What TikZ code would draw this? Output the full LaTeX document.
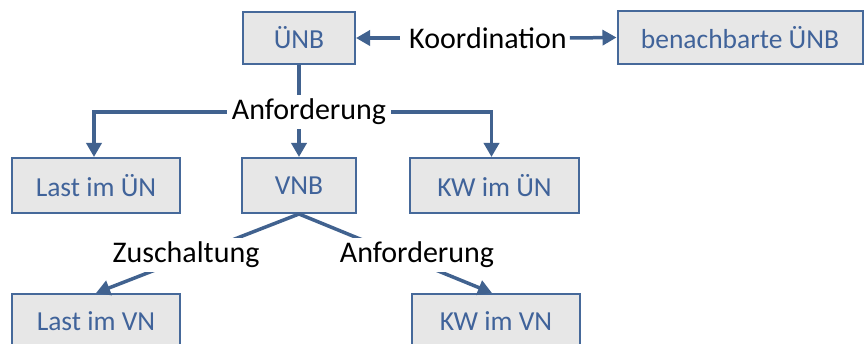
\documentclass[tikz,border=0pt]{standalone}
\usepackage{fontspec}
\setmainfont{Carlito}
\usetikzlibrary{arrows.meta}
\definecolor{boxfill}{HTML}{E7E7E7}
\definecolor{boxline}{HTML}{46699A}
\definecolor{boxtext}{HTML}{40639A}
\definecolor{arrcol}{HTML}{41628F}
\tikzset{
  box/.style={draw=boxline, line width=2pt, fill=boxfill, text=boxtext,
    font=\fontsize{27.5}{33}\selectfont, inner sep=0pt, anchor=center},
  lbl/.style={text=black, font=\fontsize{30}{36}\selectfont, inner xsep=5pt, inner ysep=4pt},
  conn/.style={draw=arrcol, line width=3.5pt},
  arr/.style={conn, -{Triangle[length=14pt,width=15pt]}},
  darr/.style={conn, {Triangle[length=14pt,width=15pt]}-{Triangle[length=14pt,width=15pt]}}
}
\begin{document}
\begin{tikzpicture}[x=1pt,y=-1pt]
\useasboundingbox (0,0) rectangle (864,344);
\clip (0,0) rectangle (864,344);
% boxes
\node[box, minimum width=112pt, minimum height=52pt] (unb) at (299,38) {ÜNB};
\node[box, minimum width=245pt, minimum height=53pt] (nachbar) at (740,37.5) {benachbarte ÜNB};
\node[box, minimum width=168pt, minimum height=55pt] (lastun) at (96,185.5) {Last im ÜN};
\node[box, minimum width=114pt, minimum height=55pt] (vnb) at (299,185.5) {VNB};
\node[box, minimum width=169pt, minimum height=55pt] (kwun) at (494.5,185.5) {KW im ÜN};
\node[box, minimum width=168pt, minimum height=55pt] (lastvn) at (96,321.5) {Last im VN};
\node[box, minimum width=168pt, minimum height=55pt] (kwvn) at (496,321.5) {KW im VN};
% Koordination
\node[lbl, inner xsep=3pt] (koord) at (488,38) {Koordination};
\draw[arr] ([xshift=-6pt]koord.west) -- (unb.east);
\draw[arr] (koord.east) -- (nachbar.west);
% top fork
\coordinate (fork) at (299,112);
\draw[conn] (unb.south) -- (fork);
\draw[arr] (fork) -| ([xshift=-2pt]lastun.north);
\draw[arr] (fork) -| ([xshift=-3pt]kwun.north);
\draw[arr] (fork) -- (vnb.north);
\node[lbl, fill=white] (anf) at (309,112) {Anforderung};
% lower diagonals
\draw[arr] (vnb.south) -- (lastvn.north);
\draw[arr] (vnb.south) -- ([xshift=-4pt]kwvn.north);
\node[lbl, fill=white] (zusch) at (186,255) {Zuschaltung};
\node[lbl, fill=white] (anf2) at (417,255) {Anforderung};
\end{tikzpicture}
\end{document}
